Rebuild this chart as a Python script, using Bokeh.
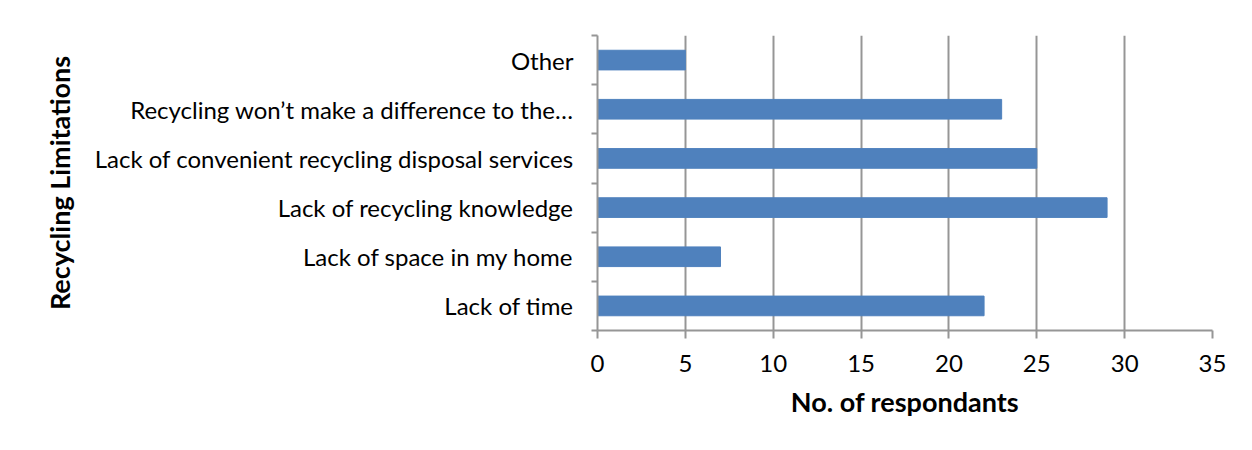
from bokeh.plotting import figure
from bokeh.models import LinearAxis, FixedTicker, Range1d
from bokeh.embed import file_html
from bokeh.resources import INLINE

categories = ["Lack of time", "Lack of space in my home", "Lack of recycling knowledge",
              "Lack of convenient recycling disposal services",
              "Recycling won\u2019t make a difference to the\u2026", "Other"]
respondents = [22, 7, 29, 25, 23, 5]
x_ticks = [0, 5, 10, 15, 20, 25, 30, 35]

FONT = "Lato"
GRAY = "#969696"

positions = [i + 0.5 for i in range(len(categories))]

p = figure(width=1236, height=434, output_backend="svg", toolbar_location=None,
           x_range=Range1d(0, 35), y_range=Range1d(0, len(categories)),
           min_border_left=597, min_border_right=24, min_border_top=35, min_border_bottom=104)
p.outline_line_color = None
p.background_fill_color = "white"

p.hbar(y=positions, right=respondents, left=0, height=0.4, color="#4F81BD")

# x axis
xa = p.xaxis[0]
xa.ticker = FixedTicker(ticks=x_ticks)
xa.axis_line_color = GRAY
xa.axis_line_width = 2
xa.major_tick_line_color = GRAY
xa.major_tick_line_width = 2
xa.major_tick_in = 0
xa.major_tick_out = 8
xa.minor_tick_line_color = None
xa.major_label_text_font = FONT
xa.major_label_text_font_size = "24px"
xa.major_label_text_color = "black"
xa.major_label_standoff = 16
xa.axis_label = "No. of respondants"
xa.axis_label_text_font = FONT
xa.axis_label_text_font_size = "27px"
xa.axis_label_text_font_style = "bold"
xa.axis_label_text_color = "black"
xa.axis_label_standoff = 10

p.xgrid.ticker = FixedTicker(ticks=x_ticks)
p.xgrid.grid_line_color = GRAY
p.xgrid.grid_line_width = 2
p.ygrid.grid_line_color = None

# y axis: boundary ticks only
ya = p.yaxis[0]
ya.ticker = FixedTicker(ticks=list(range(len(categories) + 1)))
ya.major_label_overrides = {i: "" for i in range(len(categories) + 1)}
ya.axis_line_color = GRAY
ya.axis_line_width = 2
ya.major_tick_line_color = GRAY
ya.major_tick_line_width = 2
ya.major_tick_in = 0
ya.major_tick_out = 6
ya.minor_tick_line_color = None
ya.major_label_standoff = 0
ya.major_label_text_font_size = "1px"

# y axis: category labels at centers
yl = LinearAxis(ticker=FixedTicker(ticks=positions),
                major_label_overrides={pos: c for pos, c in zip(positions, categories)})
yl.axis_line_color = None
yl.major_tick_line_color = None
yl.minor_tick_line_color = None
yl.major_label_text_font = FONT
yl.major_label_text_font_size = "24px"
yl.major_label_text_color = "black"
yl.major_label_standoff = 12
yl.axis_label = "Recycling Limitations"
yl.axis_label_text_font = FONT
yl.axis_label_text_font_size = "27px"
yl.axis_label_text_font_style = "bold"
yl.axis_label_text_color = "black"
yl.axis_label_standoff = 16
p.add_layout(yl, "left")

open("out.html", "w").write(file_html(p, INLINE))
